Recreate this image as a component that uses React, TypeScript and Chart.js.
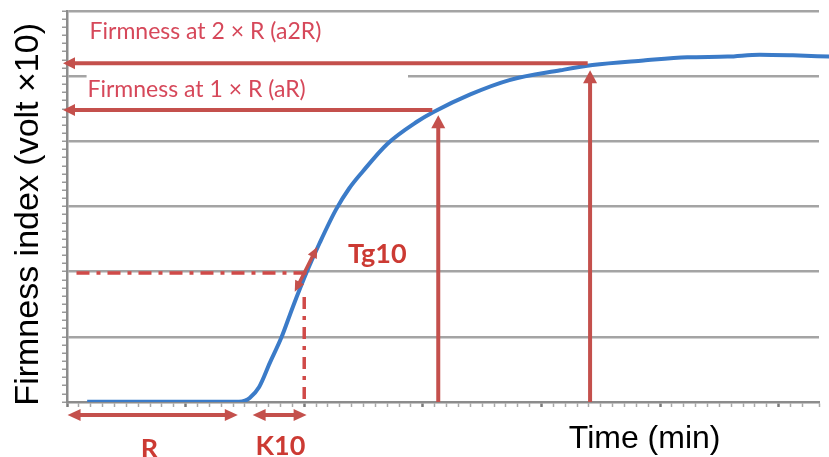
import React, { useEffect, useRef } from "react";
import { Chart, registerables } from "chart.js";

Chart.register(...registerables);

// Firmness curve (time in min, firmness index in volt x10)
const timeMin = [1.7, 5, 10, 14.5, 15.0, 15.4, 16.2, 17.1, 18.1, 19.0, 20.2, 21.3, 22.7, 23.8, 24.9, 27.0, 29.5, 30.9, 34.0, 37.3, 41.6, 44.3, 48.6, 52.3, 55.7, 58.4, 61.2, 64.3];
const firmness = [0.05, 0.05, 0.05, 0.05, 0.2, 0.6, 2.3, 6.0, 10.0, 14.4, 19.9, 24.4, 29.6, 32.8, 35.3, 39.6, 43.0, 44.5, 47.2, 49.4, 50.9, 51.7, 52.4, 52.9, 53.0, 53.3, 53.2, 53.0];

// Axis ranges
const xRange = [0, 63.4];
const yRange = [0, 60];
const xMajorStep = 10;
const yMajorStep = 10;
const axisTitles = ["Time (min)", "Firmness index (volt ×10)"];

// Reference levels (firmness) and the times where they meet the curve
const levelLabels = ["Firmness at 2 × R (a2R)", "Firmness at 1 × R (aR)"];
const levelValues = [52.0, 44.8];
const levelEndTimes = [43.9, 30.8];
const levelArrowTimes = [44.1, 31.3];
const levelArrowTips = [50.9, 44.0];

// K10 / Tg10 construction
const k10Level = 19.8;
const k10Time = 20.0;
const k10LineStart = 0.8;
const k10DropTop = 16.1;
const tangentStart = [19.2, 16.9];
const tangentEnd = [21.1, 23.8];

// Span arrows under the time axis
const spanLabels = ["R", "K10"];
const spanStarts = [0.05, 15.65];
const spanEnds = [14.4, 20.2];

const RED = "#c4504c";
const TEXT_RED = "#d6485a";
const LABEL_RED = "#cc3a33";

function drawArrowLine(
  ctx: CanvasRenderingContext2D,
  x1: number, y1: number, x2: number, y2: number,
  headStart: boolean, headEnd: boolean,
  color: string, width: number, headLen = 12, headHalf = 6
) {
  const ang = Math.atan2(y2 - y1, x2 - x1);
  const dx = Math.cos(ang), dy = Math.sin(ang);
  const sx = headStart ? x1 + dx * headLen * 0.8 : x1;
  const sy = headStart ? y1 + dy * headLen * 0.8 : y1;
  const ex = headEnd ? x2 - dx * headLen * 0.8 : x2;
  const ey = headEnd ? y2 - dy * headLen * 0.8 : y2;
  ctx.save();
  ctx.strokeStyle = color;
  ctx.fillStyle = color;
  ctx.lineWidth = width;
  ctx.lineCap = "butt";
  ctx.beginPath();
  ctx.moveTo(sx, sy);
  ctx.lineTo(ex, ey);
  ctx.stroke();
  const head = (tx: number, ty: number, a: number) => {
    const bx = tx - Math.cos(a) * headLen, by = ty - Math.sin(a) * headLen;
    const px = -Math.sin(a) * headHalf, py = Math.cos(a) * headHalf;
    ctx.beginPath();
    ctx.moveTo(tx, ty);
    ctx.lineTo(bx + px, by + py);
    ctx.lineTo(bx - px, by - py);
    ctx.closePath();
    ctx.fill();
  };
  if (headEnd) head(x2, y2, ang);
  if (headStart) head(x1, y1, ang + Math.PI);
  ctx.restore();
}

const annotationPlugin = {
  id: "firmnessAnnotations",
  beforeDatasetsDraw(chart: any) {
    const { ctx, scales } = chart;
    const x = scales.x, y = scales.y;
    // white patch behind the aR label (covers a grid line)
    ctx.save();
    ctx.fillStyle = "#ffffff";
    const left = x.getPixelForValue(1.65);
    const right = x.getPixelForValue(28.75);
    const top = y.getPixelForValue(50.6);
    const bottom = y.getPixelForValue(46.1);
    ctx.fillRect(left, top, right - left, bottom - top);
    ctx.restore();
  },
  afterDatasetsDraw(chart: any) {
    const { ctx, scales } = chart;
    const x = scales.x, y = scales.y;
    const px = (v: number) => x.getPixelForValue(v);
    const py = (v: number) => y.getPixelForValue(v);

    // horizontal level arrows pointing to the y axis, vertical arrows up to the curve
    for (let i = 0; i < levelValues.length; i++) {
      drawArrowLine(ctx, px(levelEndTimes[i]), py(levelValues[i]), px(0) - 4, py(levelValues[i]), false, true, RED, 4, 12, 6);
      drawArrowLine(ctx, px(levelArrowTimes[i]), py(0), px(levelArrowTimes[i]), py(levelArrowTips[i]), false, true, RED, 4, 13, 7);
    }

    // dash-dot construction lines
    ctx.save();
    ctx.strokeStyle = "#d04a48";
    ctx.lineWidth = 3.5;
    ctx.setLineDash([13, 7, 4, 7]);
    ctx.beginPath();
    ctx.moveTo(px(k10LineStart), py(k10Level));
    ctx.lineTo(px(k10Time + 0.2), py(k10Level));
    ctx.stroke();
    ctx.setLineDash([12, 7, 4, 7]);
    ctx.beginPath();
    ctx.moveTo(px(k10Time), py(k10DropTop));
    ctx.lineTo(px(k10Time), py(0));
    ctx.stroke();
    ctx.restore();

    // tangent double arrow
    drawArrowLine(ctx, px(tangentStart[0]), py(tangentStart[1]), px(tangentEnd[0]), py(tangentEnd[1]), true, true, RED, 3.5, 11, 5);

    // span arrows
    const spanY = py(-2.0);
    for (let i = 0; i < spanStarts.length; i++) {
      drawArrowLine(ctx, px(spanStarts[i]), spanY, px(spanEnds[i]), spanY, true, true, RED, 4, 13, 6);
    }

    // texts
    ctx.save();
    ctx.textBaseline = "alphabetic";
    ctx.fillStyle = TEXT_RED;
    ctx.font = "23px Lato, 'Open Sans', sans-serif";
    ctx.textAlign = "left";
    ctx.fillText(levelLabels[0], px(1.9), py(55.7));
    ctx.fillText(levelLabels[1], px(1.73), py(46.8));

    ctx.fillStyle = LABEL_RED;
    ctx.font = "bold 27px Lato, 'Open Sans', sans-serif";
    ctx.fillText("Tg10", px(23.7), py(21.3));
    ctx.textAlign = "center";
    ctx.fillText(spanLabels[0], px(6.96), py(-8.6));
    ctx.fillText(spanLabels[1], px(18.0), py(-8.1));

    // axis titles
    ctx.fillStyle = "#000000";
    ctx.font = "32px 'Liberation Sans', Arial, sans-serif";
    ctx.fillText(axisTitles[0], px(48.7), py(-7.1));
    ctx.translate(38, py(28.8));
    ctx.rotate(-Math.PI / 2);
    ctx.textAlign = "center";
    ctx.font = "34px 'Liberation Sans', Arial, sans-serif";
    ctx.fillText(axisTitles[1], 0, 0);
    ctx.restore();
  },
};

const isMajor = (v: number, step: number) => Math.abs(v / step - Math.round(v / step)) < 1e-6;

export default function App() {
  const ref = useRef<HTMLCanvasElement | null>(null);

  useEffect(() => {
    if (!ref.current) return;
    const points = timeMin.map((t, i) => ({ x: t, y: firmness[i] }));
    const chart = new Chart(ref.current, {
      type: "line",
      data: {
        datasets: [
          {
            label: "Firmness",
            data: points,
            borderColor: "#3b7bc8",
            borderWidth: 4,
            pointRadius: 0,
            cubicInterpolationMode: "monotone",
            clip: { left: 0, top: 10, right: 12, bottom: 0 },
          },
        ],
      },
      options: {
        responsive: false,
        animation: false,
        devicePixelRatio: 1,
        layout: { padding: { top: 11, right: 10, left: 0, bottom: 0 } },
        plugins: { legend: { display: false }, tooltip: { enabled: false } },
        scales: {
          x: {
            type: "linear",
            min: xRange[0],
            max: xRange[1],
            ticks: { display: false, stepSize: 1, maxTicksLimit: 1000 },
            grid: {
              drawOnChartArea: false,
              drawTicks: true,
              tickLength: 5,
              tickColor: (c: any) => (c.tick && isMajor(c.tick.value, xMajorStep) ? "#7a7a7a" : "#a8a8a8"),
              tickWidth: (c: any) => (c.tick && isMajor(c.tick.value, xMajorStep) ? 2.5 : 1.5),
            },
            border: { color: "#8c8c8c", width: 2.5 },
            afterFit: (scale: any) => {
              scale.height = 55;
            },
          },
          y: {
            type: "linear",
            min: yRange[0],
            max: yRange[1],
            ticks: { display: false, stepSize: 1.25, maxTicksLimit: 1000 },
            grid: {
              color: (c: any) =>
                c.tick && isMajor(c.tick.value, yMajorStep) && c.tick.value > 0 ? "#a4a4a4" : "rgba(0,0,0,0)",
              lineWidth: 2.5,
              drawTicks: true,
              tickLength: 5,
              tickColor: "#9a9a9a",
              tickWidth: 1.5,
            },
            border: { color: "#8c8c8c", width: 2.5 },
            afterFit: (scale: any) => {
              scale.width = 67;
            },
          },
        },
      },
      plugins: [annotationPlugin],
    });
    return () => chart.destroy();
  }, []);

  return (
    <div style={{ position: "fixed", left: 0, top: 0, width: 829, height: 457, background: "#ffffff" }}>
      <canvas ref={ref} width={829} height={457} style={{ display: "block" }} />
    </div>
  );
}
